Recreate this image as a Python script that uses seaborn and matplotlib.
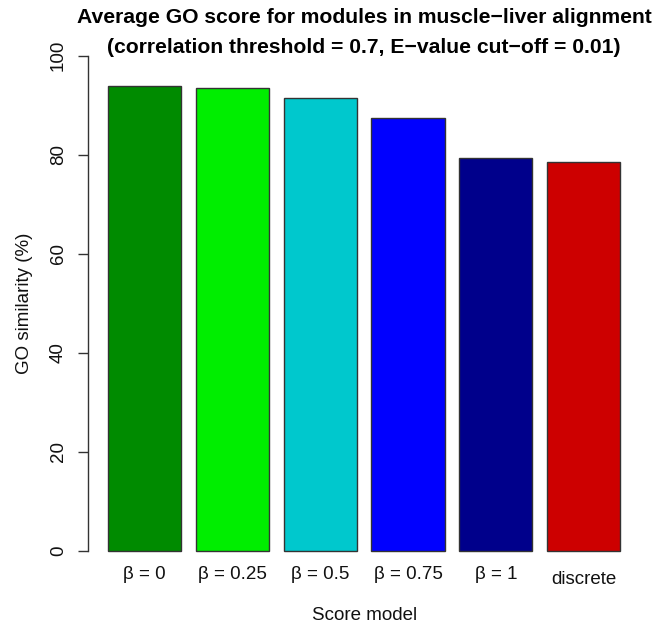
import matplotlib
matplotlib.use("Agg")
import matplotlib.pyplot as plt
import seaborn as sns
import pandas as pd

# Average GO similarity per score model
models = ["β = 0", "β = 0.25", "β = 0.5", "β = 0.75", "β = 1", "discrete"]
go_similarity = [93.9, 93.4, 91.5, 87.5, 79.4, 78.6]
bar_colors = ["#008B00", "#00EE00", "#00C8CD", "#0000FF", "#00008B", "#CD0000"]
y_ticks = [0, 20, 40, 60, 80, 100]

sns.set_theme(style="white")
plt.rcParams["font.family"] = ["Liberation Sans", "DejaVu Sans"]
plt.rcParams["text.color"] = "black"

df = pd.DataFrame({"model": models, "score": go_similarity})

fig = plt.figure(figsize=(6.56, 6.28), dpi=100)
ax = fig.add_axes([0.1338, 0.0916, 0.8426, 0.8512])

sns.barplot(data=df, x="model", y="score", hue="model", palette=bar_colors,
            width=1 / 1.2, edgecolor="#333333", linewidth=1.0,
            legend=False, ax=ax, saturation=1)

ax.set_xlim(-0.65, 5.65)
ax.set_ylim(-4, 104)

for side in ["top", "right", "bottom"]:
    ax.spines[side].set_visible(False)
ax.spines["left"].set_bounds(0, 100)
ax.spines["left"].set_color("#333333")
ax.spines["left"].set_linewidth(1.0)

ax.set_yticks(y_ticks)
ax.set_yticklabels([str(t) for t in y_ticks], rotation=90, va="center")
ax.tick_params(axis="y", left=True, length=7, width=1.0, color="#333333",
               pad=8, labelsize=13.5, labelcolor="#111111")
ax.tick_params(axis="x", bottom=False, length=0, pad=-3, labelsize=13.5,
               labelcolor="#111111")
for lbl in ax.get_xticklabels():
    if lbl.get_text() == "discrete":
        lbl.set_y(-0.008)

ax.set_xlabel("Score model", fontsize=13.5, color="#111111", labelpad=14)
ax.set_ylabel("GO similarity (%)", fontsize=13.5, color="#111111", labelpad=12)
ax.grid(False)

fig.text(0.555, 0.972, "Average GO score for modules in muscle\u2212liver alignment",
         ha="center", va="center", fontsize=15.2, fontweight="bold", color="black")
fig.text(0.555, 0.925, "(correlation threshold = 0.7, E\u2212value cut\u2212off = 0.01)",
         ha="center", va="center", fontsize=15.2, fontweight="bold", color="black")

fig.savefig("out.png", dpi=100)
